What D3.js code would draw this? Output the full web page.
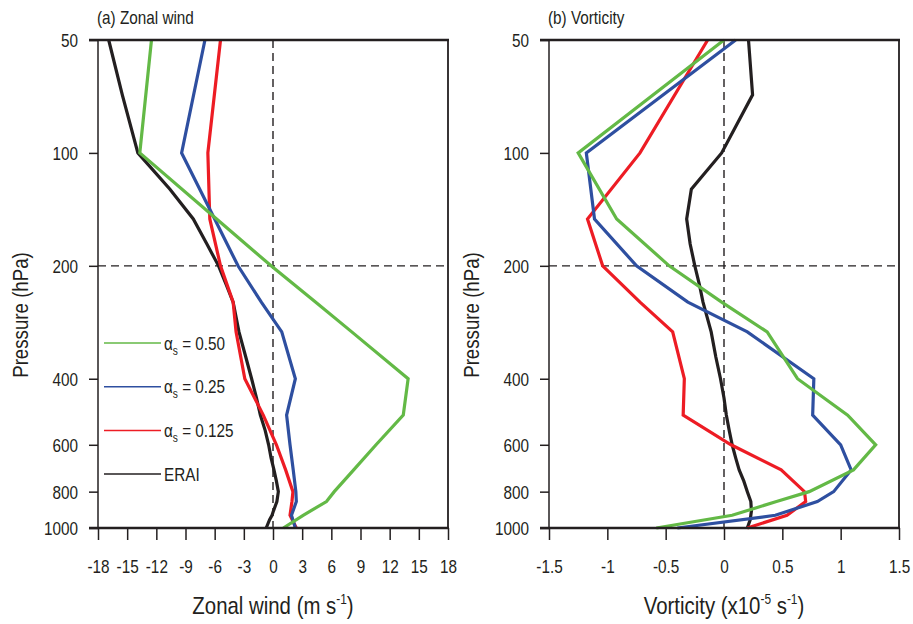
<!DOCTYPE html>
<html>
<head>
<meta charset="utf-8">
<script src="https://cdn.jsdelivr.net/npm/d3@7"></script>
<style>
  body { margin: 0; background: #fff; }
  text { font-family: "Liberation Sans", Arial, sans-serif; fill: #231f20; }
</style>
</head>
<body>
<div id="chart"></div>
<script>
// pressure levels (hPa)
var eraLevels = [50, 70, 100, 125, 150, 175, 200, 225, 250, 300, 350, 400, 450, 500, 550, 600, 650, 700, 750, 800, 850, 900, 925, 950, 1000];
var modelLevels = [50, 100, 150, 200, 250, 300, 400, 500, 600, 700, 800, 850, 925, 1000];

// axis ticks
var pressureTicks = [50, 100, 200, 400, 600, 800, 1000];
var windTicks = [-18, -15, -12, -9, -6, -3, 0, 3, 6, 9, 12, 15, 18];
var vortTicks = [-1.5, -1, -0.5, 0, 0.5, 1, 1.5];

// zonal wind (m/s)
var uERAI = [-16.9, -15.5, -13.9, -10.6, -8.2, -6.8, -5.6, -4.8, -4.1, -3.5, -2.8, -2.2, -1.7, -1.3, -0.8, -0.45, -0.2, 0.1, 0.35, 0.55, 0.4, 0.05, -0.1, -0.35, -0.7];
var uAlpha050 = [-12.5, -13.7, -5.8, -0.2, 4.4, 8.1, 13.9, 13.4, 10.6, 8.3, 6.3, 5.5, 3.1, 1.06];
var uAlpha025 = [-7.0, -9.4, -6.0, -3.6, -1.2, 0.9, 2.3, 1.4, 1.75, 2.08, 2.35, 2.4, 1.9, 2.3];
var uAlpha0125 = [-5.4, -6.7, -6.5, -5.4, -4.1, -3.8, -2.9, -1.0, 0.35, 1.3, 2.05, 1.95, 1.75, 2.4];

// vorticity (x1e-5 /s)
var vERAI = [0.21, 0.245, -0.02, -0.28, -0.32, -0.29, -0.25, -0.21, -0.18, -0.11, -0.07, -0.03, 0.0, 0.02, 0.045, 0.07, 0.1, 0.13, 0.17, 0.2, 0.23, 0.235, 0.23, 0.225, 0.2];
var vAlpha050 = [0.0, -1.25, -0.92, -0.47, -0.02, 0.37, 0.63, 1.06, 1.30, 1.11, 0.73, 0.45, 0.07, -0.58];
var vAlpha025 = [0.10, -1.18, -1.11, -0.75, -0.31, 0.2, 0.77, 0.76, 1.0, 1.09, 0.94, 0.80, 0.44, -0.4];
var vAlpha0125 = [-0.14, -0.72, -1.17, -1.04, -0.72, -0.44, -0.34, -0.35, 0.06, 0.49, 0.69, 0.70, 0.54, 0.2];

// legend entries
var legendNames = ["0.50", "0.25", "0.125", "ERAI"];
var legendColors = ["#63b946", "#2e4fa0", "#ed1c24", "#231f20"];

var width = 913, height = 624;
var plotW = 350, plotTop = 40, plotBottom = 528;
var squeeze = 0.85;

var svg = d3.select("#chart").append("svg")
    .attr("width", width)
    .attr("height", height);

var y = d3.scaleLog().domain([50, 1000]).range([plotTop, plotBottom]);

// text helper, font looks narrow so squeeze it horizontally
function addText(parent, x, yy, size, anchor, str) {
    return parent.append("text")
        .attr("transform", "translate(" + x + "," + yy + ") scale(" + squeeze + ",1)")
        .attr("text-anchor", anchor)
        .style("font-size", size + "px")
        .text(str);
}

function drawPanel(left, domain, ticks, title, series) {
    var g = svg.append("g").attr("transform", "translate(" + left + ",0)");
    var x = d3.scaleLinear().domain(domain).range([0, plotW]);

    // y axis
    var yAxis = g.append("g")
        .call(d3.axisLeft(y).tickValues(ticks.y).tickFormat(String).tickSize(9).tickSizeOuter(0));
    yAxis.select(".domain").remove();
    yAxis.selectAll("line").attr("stroke", "#231f20").attr("stroke-width", 1.5);
    yAxis.selectAll("text")
        .attr("x", null)
        .attr("dy", "0.36em")
        .attr("transform", "translate(-20,0) scale(" + squeeze + ",1)")
        .style("font-size", "18px");

    // x axis
    var xAxis = g.append("g")
        .attr("transform", "translate(0," + plotBottom + ")")
        .call(d3.axisBottom(x).tickValues(ticks.x).tickFormat(String).tickSize(12).tickSizeOuter(0));
    xAxis.select(".domain").remove();
    xAxis.selectAll("line").attr("stroke", "#231f20").attr("stroke-width", 1.5);
    xAxis.selectAll("text")
        .attr("y", null)
        .attr("dy", null)
        .attr("transform", "translate(0,45) scale(" + squeeze + ",1)")
        .style("font-size", "18px");

    // reference lines
    g.append("line")
        .attr("x1", x(0)).attr("x2", x(0))
        .attr("y1", plotTop).attr("y2", plotBottom)
        .attr("stroke", "#231f20").attr("stroke-width", 1.4)
        .attr("stroke-dasharray", "8,5");
    g.append("line")
        .attr("x1", 0).attr("x2", plotW)
        .attr("y1", y(200)).attr("y2", y(200))
        .attr("stroke", "#231f20").attr("stroke-width", 1.4)
        .attr("stroke-dasharray", "8,5");

    // profiles
    var line = d3.line()
        .x(function(d) { return x(d[1]); })
        .y(function(d) { return y(d[0]); });
    for (var i = 0; i < series.length; i++) {
        g.append("path")
            .datum(d3.zip(series[i].levels, series[i].values))
            .attr("d", line)
            .attr("fill", "none")
            .attr("stroke", series[i].color)
            .attr("stroke-width", 3.2);
    }

    // frame
    g.append("line").attr("x1", 0).attr("x2", 0).attr("y1", plotTop).attr("y2", plotBottom)
        .attr("stroke", "#231f20").attr("stroke-width", 1.5);
    g.append("line").attr("x1", plotW).attr("x2", plotW).attr("y1", plotTop).attr("y2", plotBottom)
        .attr("stroke", "#231f20").attr("stroke-width", 1.8);
    g.append("line").attr("x1", -9).attr("x2", plotW + 1).attr("y1", plotTop).attr("y2", plotTop)
        .attr("stroke", "#231f20").attr("stroke-width", 2.6);
    g.append("line").attr("x1", -9).attr("x2", plotW + 1).attr("y1", plotBottom).attr("y2", plotBottom)
        .attr("stroke", "#231f20").attr("stroke-width", 2.6);

    // title
    addText(g, -1, 24, 18, "start", title);

    // y label
    g.append("text")
        .attr("transform", "translate(-70,315) rotate(-90) scale(" + squeeze + ",1)")
        .attr("text-anchor", "middle")
        .style("font-size", "22px")
        .text("Pressure (hPa)");

    return g;
}

// (a) zonal wind
var ga = drawPanel(98, [-18, 18], {x: windTicks, y: pressureTicks}, "(a) Zonal wind", [
    {levels: eraLevels, values: uERAI, color: legendColors[3]},
    {levels: modelLevels, values: uAlpha0125, color: legendColors[2]},
    {levels: modelLevels, values: uAlpha025, color: legendColors[1]},
    {levels: modelLevels, values: uAlpha050, color: legendColors[0]}
]);

var xla = addText(ga, 175, 614, 24, "middle", "Zonal wind (m s");
xla.append("tspan").attr("dy", -10).style("font-size", "14px").text("-1");
xla.append("tspan").attr("dy", 10).text(")");

// legend
for (var k = 0; k < legendNames.length; k++) {
    var ly = 343 + k * 43.7;
    ga.append("line")
        .attr("x1", 6).attr("x2", 63)
        .attr("y1", ly).attr("y2", ly)
        .attr("stroke", legendColors[k])
        .attr("stroke-width", 1.5);
    var lt = addText(ga, 66, ly + 6.5, 18, "start", "");
    if (legendNames[k] == "ERAI") {
        lt.text("ERAI");
    } else {
        lt.append("tspan").text("\u03b1");
        lt.append("tspan").attr("dy", 5).style("font-size", "12px").text("s");
        lt.append("tspan").attr("dy", -5).text(" = " + legendNames[k]);
    }
}

// (b) vorticity
var gb = drawPanel(549, [-1.5, 1.5], {x: vortTicks, y: pressureTicks}, "(b) Vorticity", [
    {levels: eraLevels, values: vERAI, color: legendColors[3]},
    {levels: modelLevels, values: vAlpha0125, color: legendColors[2]},
    {levels: modelLevels, values: vAlpha025, color: legendColors[1]},
    {levels: modelLevels, values: vAlpha050, color: legendColors[0]}
]);

var xlb = addText(gb, 175, 614, 24, "middle", "Vorticity (x10");
xlb.append("tspan").attr("dy", -10).style("font-size", "14px").text("-5");
xlb.append("tspan").attr("dy", 10).text(" s");
xlb.append("tspan").attr("dy", -10).style("font-size", "14px").text("-1");
xlb.append("tspan").attr("dy", 10).text(")");
</script>
</body>
</html>
